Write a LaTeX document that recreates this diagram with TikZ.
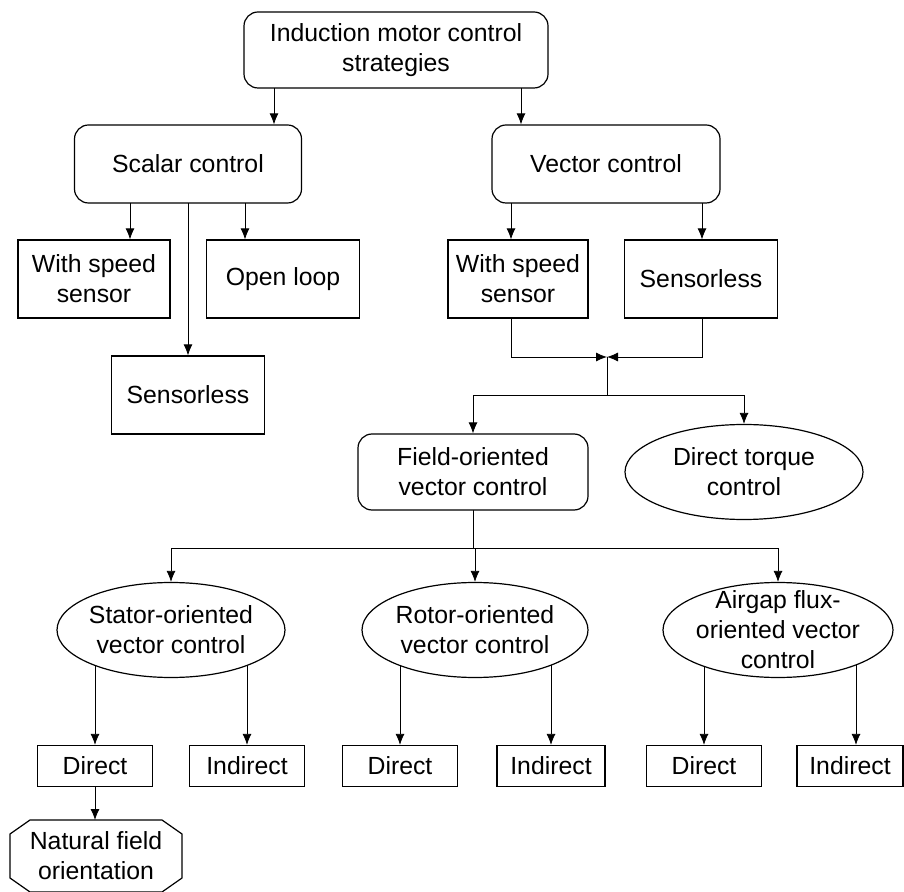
\documentclass[tikz,border=0pt]{standalone}
\usepackage{fontspec}
\setmainfont{Liberation Sans}
\usetikzlibrary{shapes.geometric,arrows.meta,backgrounds}

\begin{document}
\begin{tikzpicture}[x=0.5pt,y=-0.5pt,
    font=\fontsize{12.4}{15}\selectfont,
    arr/.style={-{Latex[length=5.5pt,width=4.5pt]}},
    line width=0.6pt]

          \useasboundingbox (0,0) rectangle (904,892);

          \begin{scope}[every node/.style={draw,fill=white,align=center,inner sep=0pt,rounded corners=7pt}]
            \node[minimum width=152pt,minimum height=38pt] (imc) at (396,50)  {Induction motor control\\strategies};
            \node[minimum width=113.5pt,minimum height=39pt] (sc) at (188,164) {Scalar control};
            \node[minimum width=114pt,minimum height=39pt] (vc) at (606,164) {Vector control};
            \node[minimum width=115pt,minimum height=38pt] (foc) at (473,472) {Field-oriented\\vector control};
          \end{scope}

          \begin{scope}[every node/.style={draw,fill=white,align=center,inner sep=0pt,minimum height=39pt}]
            \node[minimum width=76pt] (sws) at (94,279)  {With speed\\sensor};
            \node[minimum width=76.5pt] (sol) at (283,279) {Open loop};
            \node[minimum width=76.5pt] (ssl) at (188,395) {Sensorless};
            \node[minimum width=70pt] (vws) at (518,279) {With speed\\sensor};
            \node[minimum width=76.5pt] (vsl) at (701,279) {Sensorless};
          \end{scope}

          \begin{scope}[every node/.style={draw,fill=white,align=center,ellipse,inner xsep=-20pt,inner ysep=-10pt,minimum height=47.5pt}]
            \node[minimum width=119pt] (dtc) at (744,472) {Direct torque\\control};
            \node[minimum width=114pt] (sto) at (171,630) {Stator-oriented\\vector control};
            \node[minimum width=113pt] (roo) at (475,630) {Rotor-oriented\\vector control};
            \node[minimum width=115pt] (afo) at (778,630) {Airgap flux-\\oriented vector\\control};
          \end{scope}

          \begin{scope}[every node/.style={draw,fill=white,inner sep=0pt,minimum height=20.5pt}]
            \node[minimum width=57.5pt] (sd) at (95,766)  {Direct};
            \node[minimum width=57.5pt] (si) at (247,766) {Indirect};
            \node[minimum width=57.5pt] (rd) at (400,766) {Direct};
            \node[minimum width=54pt]   (ri) at (551,766) {Indirect};
            \node[minimum width=57.5pt] (ad) at (704,766) {Direct};
            \node[minimum width=53pt]   (ai) at (850,766) {Indirect};
          \end{scope}

          \node[align=center,inner sep=0pt,outer sep=0pt,minimum width=86pt,minimum height=36pt]
                (nfo) at (96,856) {Natural field\\orientation};
          \draw ([xshift=10pt]nfo.north west) -- ([xshift=-10pt]nfo.north east)
             -- ([yshift=-7pt]nfo.north east) -- ([yshift=7pt]nfo.south east)
             -- ([xshift=-10pt]nfo.south east) -- ([xshift=10pt]nfo.south west)
             -- ([yshift=7pt]nfo.south west) -- ([yshift=-7pt]nfo.north west) -- cycle;

          \coordinate (j) at (607,357);
          \coordinate (k) at (607,395);
          \coordinate (b) at (473,548);

          \begin{pgfonlayer}{background}
            \draw[arr] (imc.center -| 274,0) -- (sc.north -| 274,0);
            \draw[arr] (imc.center -| 521,0) -- (vc.north -| 521,0);
            \draw[arr] (sc.center -| 130,0) -- (sws.north -| 130,0);
            \draw[arr] (sc.center) -- (ssl.north);
            \draw[arr] (sc.center -| 245,0) -- (sol.north -| 245,0);
            \draw[arr] (vc.center -| 511,0) -- (vws.north -| 511,0);
            \draw[arr] (vc.center -| 702,0) -- (vsl.north -| 702,0);
            \draw[arr] (vws.center -| 511,0) |- (j);
            \draw[arr] (vsl.center -| 702,0) |- (j);
            \draw (j) -- (k);
            \draw[arr] (k) -| (foc.north);
            \draw[arr] (k) -| (dtc.north);
            \draw (foc.center) -- (b);
            \draw[arr] (b) -| (sto.north);
            \draw[arr] (b) -| (roo.north);
            \draw[arr] (b) -| (afo.north);
            \draw[arr] (sto.center -| sd.north) -- (sd.north);
            \draw[arr] (sto.center -| si.north) -- (si.north);
            \draw[arr] (roo.center -| rd.north) -- (rd.north);
            \draw[arr] (roo.center -| ri.north) -- (ri.north);
            \draw[arr] (afo.center -| ad.north) -- (ad.north);
            \draw[arr] (afo.center -| 856,0) -- (ai.north -| 856,0);
            \draw[arr] (sd.center) -- (nfo.north -| sd.center);
          \end{pgfonlayer}

        \end{tikzpicture}
\end{document}
